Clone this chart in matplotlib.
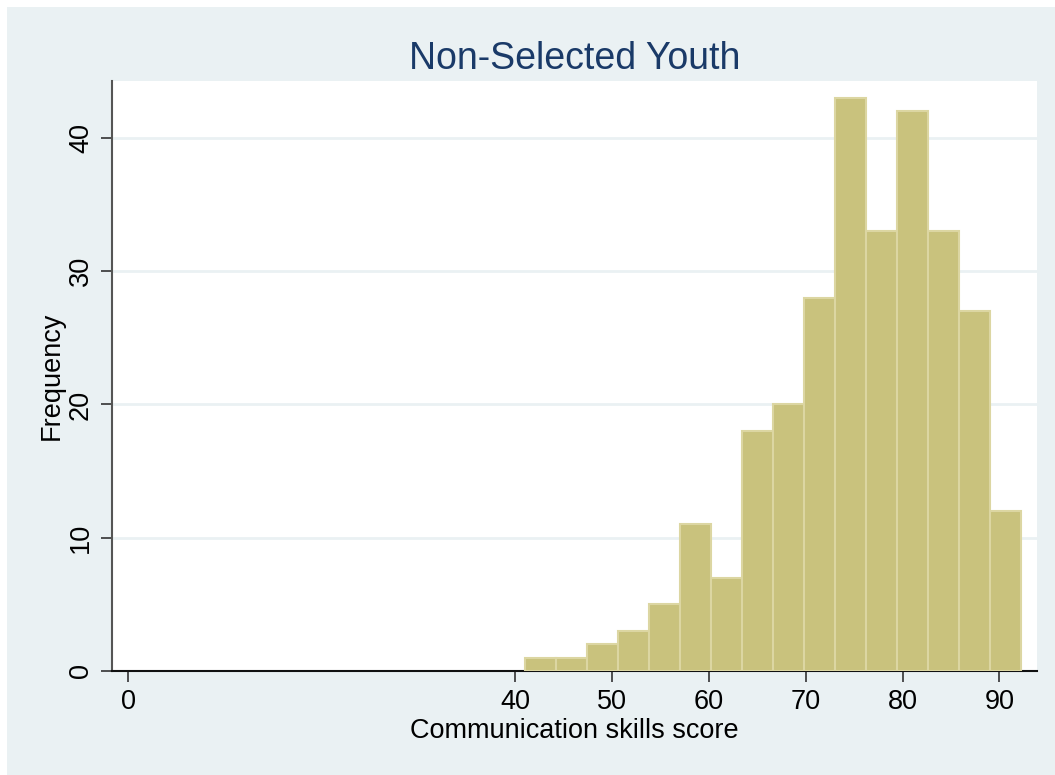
import numpy as np
import matplotlib
matplotlib.use("Agg")
import matplotlib.pyplot as plt
from matplotlib.patches import Rectangle

# histogram of communication skills score, non-selected youth
bin_start = 41.0
bin_width = 3.2
counts = [1, 1, 2, 3, 5, 11, 7, 18, 20, 28, 43, 33, 42, 33, 27, 12]
xticks = [0, 40, 50, 60, 70, 80, 90]
yticks = [0, 10, 20, 30, 40]

plt.rcParams['font.family'] = ['Liberation Sans', 'DejaVu Sans']

bg = '#eaf1f3'
fig = plt.figure(figsize=(10.55, 7.75), dpi=100)
fig.patch.set_facecolor('white')
fig.patches.append(Rectangle((7/1055, 0), 1 - 7/1055, 1 - 7/775,
                             transform=fig.transFigure, facecolor=bg,
                             edgecolor='none', zorder=-10))

ax = fig.add_axes([112/1055, 104/775, 924.7/1055, 590/775])
ax.set_facecolor('white')

edges = bin_start + bin_width * np.arange(len(counts))
ax.bar(edges, counts, width=bin_width, align='edge', color='#c9c27d',
       edgecolor='#dcd6a2', linewidth=1.5, zorder=3)

ax.set_xlim(-1.68, 93.86)
ax.set_ylim(0, 44.27)
ax.set_xticks(xticks)
ax.set_yticks(yticks)
ax.tick_params(axis='both', labelsize=19.5, length=8, width=1.2, color='#333333', pad=5)
ax.tick_params(axis='y', labelrotation=90)
for lab in ax.get_yticklabels():
    lab.set_va('center')

for y in yticks[1:]:
    ax.axhline(y, color=bg, linewidth=2, zorder=1)

for s in ['top', 'right']:
    ax.spines[s].set_visible(False)
ax.spines['left'].set_color('#555555')
ax.spines['left'].set_linewidth(1.5)
ax.spines['bottom'].set_color('#111111')
ax.spines['bottom'].set_linewidth(1.5)

ax.set_title('Non-Selected Youth', fontsize=27, color='#1a3a68', pad=9)
ax.set_xlabel('Communication skills score', fontsize=19.5, labelpad=2)
ax.set_ylabel('Frequency', fontsize=19.5, labelpad=2)

fig.savefig('out.png', dpi=100, facecolor=fig.get_facecolor())
